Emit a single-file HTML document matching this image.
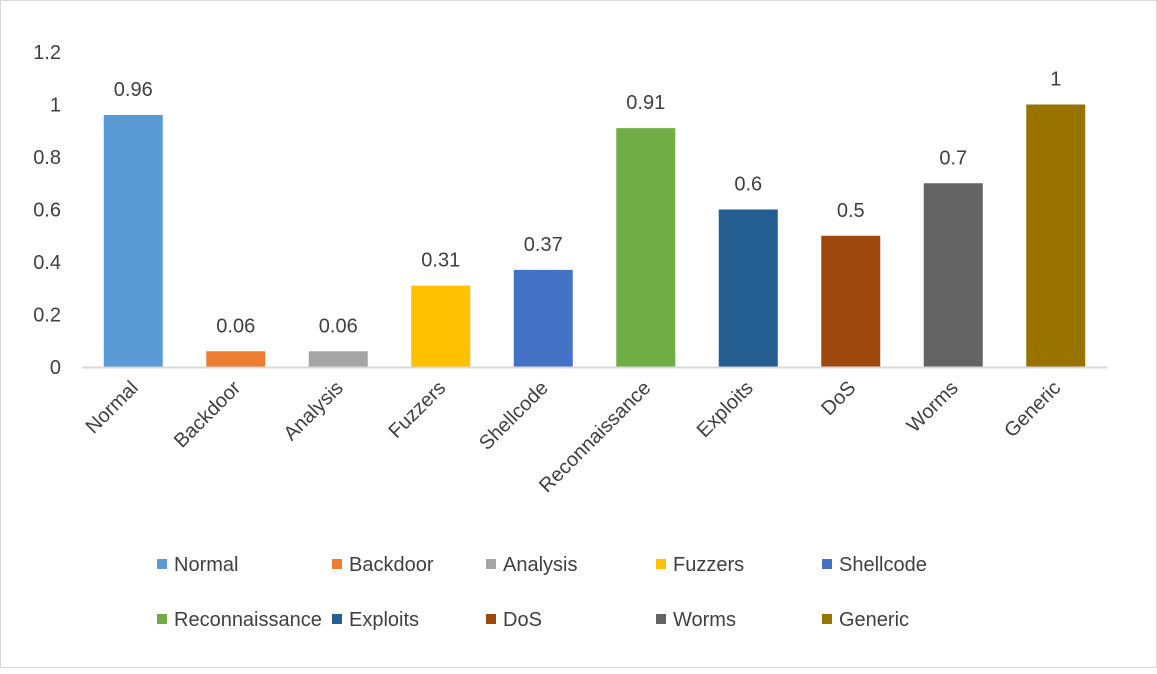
<!DOCTYPE html>
<html><head><meta charset="utf-8"><style>
body{margin:0;background:#fff;}
#wrap{position:relative;width:1157px;height:668px;box-sizing:border-box;border:1px solid #d9d9d9;background:#fff;}
svg text{font-family:"Liberation Sans",sans-serif;fill:#404040;}
</style></head><body>
<div id="wrap">
<svg id="chart" width="1157" height="668"></svg>
</div>
<script>
const categories=["Normal","Backdoor","Analysis","Fuzzers","Shellcode","Reconnaissance","Exploits","DoS","Worms","Generic"];
const values=[0.96,0.06,0.06,0.31,0.37,0.91,0.6,0.5,0.7,1];
const labels=["0.96","0.06","0.06","0.31","0.37","0.91","0.6","0.5","0.7","1"];
const colors=["#5B9BD5","#ED7D31","#A5A5A5","#FFC000","#4472C4","#70AD47","#255E91","#9E480E","#636363","#997300"];
const yTicks=[0,0.2,0.4,0.6,0.8,1,1.2];
const yTickLabels=["0","0.2","0.4","0.6","0.8","1","1.2"];
const NS="http://www.w3.org/2000/svg";
const svg=document.getElementById('chart');
const x0=81,x1=1106,y0=366,yTop=51,yMax=1.2;
const band=(x1-x0)/categories.length;
function y(v){return y0-(v/yMax)*(y0-yTop);}
function xc(i){return x0+band*(i+0.5);}
function mk(t,a){const e=document.createElementNS(NS,t);for(const k in a)e.setAttribute(k,a[k]);svg.appendChild(e);return e;}
yTicks.forEach((t,i)=>{
 const e=mk('text',{x:60,y:y(t)+7,'text-anchor':'end','font-size':20});
 e.textContent=yTickLabels[i];
 
 
});
categories.forEach((c,i)=>{
 const bw=59;
 const r=mk('rect',{x:xc(i)-bw/2,y:y(values[i]),width:bw,height:y0-y(values[i]),fill:colors[i]});
 
 
 const t=mk('text',{x:xc(i),y:y(values[i])-19,'text-anchor':'middle','font-size':20});
 t.textContent=labels[i];
 
 
 const lx=xc(i)+6,ly=y0+22;
 const l=mk('text',{x:lx,y:ly,'text-anchor':'end','font-size':20,transform:`rotate(-45 ${lx} ${ly})`});
 l.textContent=c;
 
 
});
const ax=mk('line',{x1:x0,x2:x1,y1:y0+0.5,y2:y0+0.5,stroke:'#d9d9d9','stroke-width':2});


const lxs=[156,331,485,655,821];
categories.forEach((c,i)=>{
 const col=i%5,row=Math.floor(i/5);
 const ly=row?618:563;
 const s=mk('rect',{x:lxs[col],y:ly-5,width:10,height:10,fill:colors[i]});
 
 
 const t=mk('text',{x:lxs[col]+17,y:ly+7,'font-size':20});
 t.textContent=c;
 
 
});
</script>
</body></html>
